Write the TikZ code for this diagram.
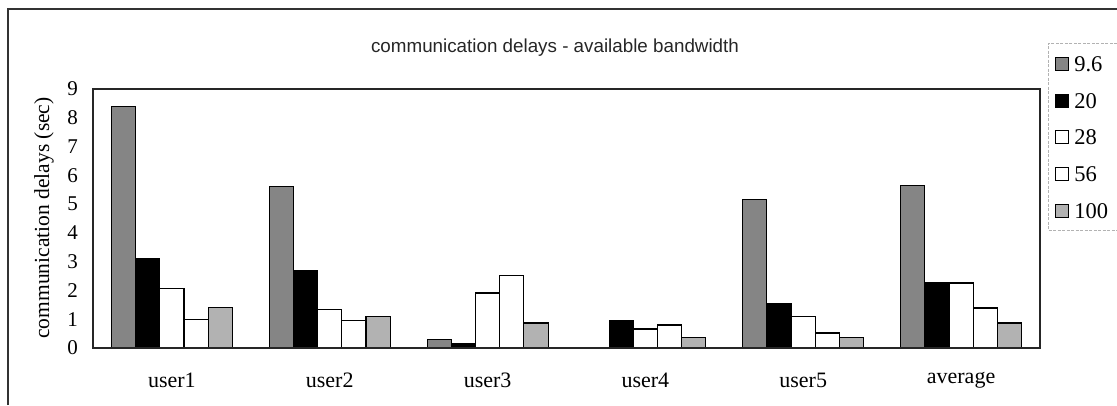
\documentclass[tikz,border=0pt]{standalone}
\usepackage{fontspec}
\setmainfont{Liberation Serif}
\newfontfamily\titlefont{Liberation Sans}
\usetikzlibrary{positioning}

\tikzset{
  bar/.style={draw=black, line width=1.1pt},
  ser96/.style={bar, fill=black!48},
  ser20/.style={bar, fill=black},
  ser28/.style={bar, fill=white},
  ser56/.style={bar, fill=white},
  ser100/.style={bar, fill=black!30},
  plotframe/.style={draw=black!85, line width=1.3pt},
  ticklab/.style={font=\fontsize{21}{24}\selectfont, inner sep=0pt, anchor=east},
  catlab/.style={font=\fontsize{22}{25}\selectfont, inner sep=0pt},
  leglab/.style={font=\fontsize{22.5}{26}\selectfont, inner sep=0pt, anchor=west},
  legmark/.style={bar, minimum size=13pt, inner sep=0pt}
}

\begin{document}
\begin{tikzpicture}[x=1pt, y=-1pt]
        \useasboundingbox (0,0) rectangle (1117,405);
        % outer frame and title
        \draw[draw=black!80, line width=1.3pt] (8,405) -- (8,9) -- (1117,9);
        \node[font=\titlefont\fontsize{18.8}{22}\selectfont, text=black!85] (title) at (555,48)
            {communication delays - available bandwidth};
        \node[font=\fontsize{21.5}{25}\selectfont, rotate=90] (ylab) at (44,218)
            {communication delays (sec)};

        % chart area: one unit in x per group, one unit in y per second
        \begin{scope}[shift={(93,348)}, x=157.83pt, y=28.78pt]
            \foreach \ser/\off/\vals in {
                    ser96/0/{8.4,5.6,0.28,0,5.15,5.65},
                    ser20/1/{3.1,2.7,0.14,0.94,1.53,2.26},
                    ser28/2/{2.08,1.35,1.91,0.66,1.08,2.26},
                    ser56/3/{1.0,0.95,2.53,0.8,0.52,1.39},
                    ser100/4/{1.42,1.08,0.87,0.38,0.35,0.87}} {
                \foreach \h [count=\g from 0] in \vals {
                    \draw[\ser] (\g+0.1167+\off*0.1533,0) rectangle ++(0.1533,\h);
                }
            }
            \draw[plotframe] (0,0) rectangle (6,9);
            % tick labels
            \foreach \t in {0,...,9} {
                \node[ticklab] (tick\t) at (-0.095,\t) {\t};
            }
            % group labels
            \foreach \lab [count=\g from 0] in {user1,user2,user3,user4,user5,average} {
                \node[catlab] (grp\g) at (\g+0.5,-1.11) {\lab};
            }
        \end{scope}

        % legend
        \draw[draw=gray!60, line width=0.8pt, dash pattern=on 3pt off 1.5pt]
            (1117,43) -- (1048,43) -- (1048,230) -- (1117,230);
        \foreach \ser/\lab [count=\k from 0] in {ser96/9.6,ser20/20,ser28/28,ser56/56,ser100/100} {
            \node[legmark, \ser] (mark\k) at (1062,64+36.7*\k) {};
            \node[leglab, right=5pt of mark\k] (leg\k) {\lab};
        }
    \end{tikzpicture}
\end{document}
